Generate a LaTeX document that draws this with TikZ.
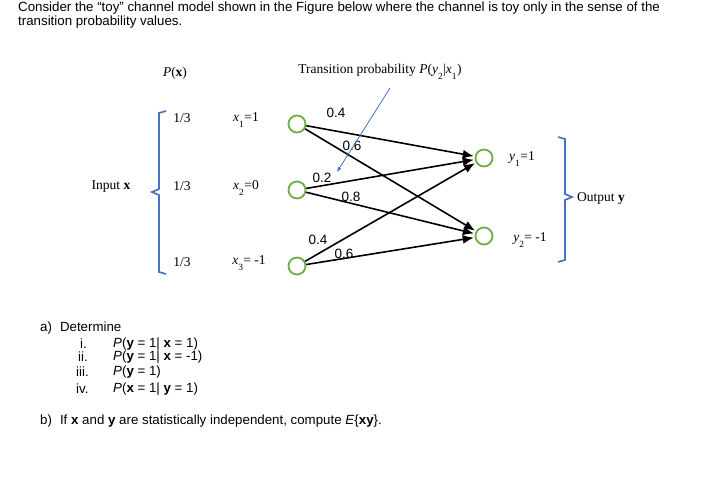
\documentclass[tikz,border=0pt]{standalone}
\usepackage{fontspec}
\setmainfont{Liberation Serif}
\newfontfamily\arial{Liberation Sans}
\usetikzlibrary{arrows.meta}
\definecolor{cgreen}{RGB}{112,173,71}
\definecolor{cblue}{RGB}{68,114,196}
\newcommand{\vi}[2]{\textit{#1}\textsubscript{\raisebox{-0.9ex}{#2}}}
\begin{document}
\begin{tikzpicture}[x=1pt,y=-1pt,
  st/.style={circle,draw=cgreen,line width=1.8pt,minimum size=17pt,inner sep=0pt},
  ar/.style={-{Latex[length=11pt,width=9pt]},line width=1.6pt,shorten >=1pt},
  fl/.style={font=\fontsize{13.5}{15}\selectfont,inner sep=0pt},
  tx/.style={font=\arial\fontsize{13.3}{15}\selectfont,inner sep=0pt,anchor=west},
  br/.style={draw=cblue,line width=1.7pt}]
\useasboundingbox (0,0) rectangle (710,501);
\node[tx] (h1) at (18,8) {Consider the “toy” channel model shown in the Figure below where the channel is toy only in the sense of the};
\node[tx] (h2) at (18,22) {transition probability values.};
\node (x1) [st] at (297,124) {};
\node (x2) [st] at (297,190) {};
\node (x3) [st] at (297,266) {};
\node (y1) [st] at (484,158) {};
\node (y2) [st] at (484,236) {};
\draw[ar] (x1) -- (y1); \draw[ar] (x1) -- (y2);
\draw[ar] (x2) -- (y1); \draw[ar] (x2) -- (y2);
\draw[ar] (x3) -- (y1); \draw[ar] (x3) -- (y2);
\node[fl] (p1) at (336,113) {\arial 0.4};
\node[fl] (p2) at (352,146) {\arial 0.6};
\node[fl] (p3) at (322,178) {\arial 0.2};
\node[fl] (p4) at (351,197) {\arial 0.8};
\node[fl] (p5) at (318,240) {\arial 0.4};
\node[fl] (p6) at (344,254) {\arial 0.6};
\node[fl] (tp) at (380,72) {Transition probability \textit{P}(\vi{y}{2}|\vi{x}{1})};
\coordinate (ta) at (390,88);
\coordinate (tb) at (337,172);
\draw[cblue,line width=0.8pt,-{Latex[length=5pt,width=4pt]}] (ta) -- (tb);
\node[fl] (px) at (175,73) {\textit{P}(\textbf{x})};
\node[fl] (q1) at (182,118) {1/3};
\node[fl] (q2) at (182,186) {1/3};
\node[fl] (q3) at (182,262) {1/3};
\node[fl] (l1) at (246,120) {\vi{x}{1}=1};
\node[fl] (l2) at (246,188) {\vi{x}{2}=0};
\node[fl] (l3) at (249,263) {\vi{x}{3}= -1};
\node[fl] (in) at (111,187) {Input \textbf{x}};
\node[fl] (m1) at (522,159) {\vi{y}{1}=1};
\node[fl] (m2) at (530,240) {\vi{y}{2}= -1};
\node[fl] (out) at (601,198) {Output \textbf{y}};
\draw[br] (166,111) -- (159,113) -- (159,189) -- (152,192) -- (159,195) -- (159,272) -- (166,274);
\draw[br] (558,137) -- (565,139) -- (565,194) -- (572,197) -- (565,200) -- (565,260) -- (558,262);
\node[tx] (a) at (40,328) {a)\hspace{8pt}Determine};
\node[tx] (a1) at (80,344) {i.};
\node[tx] (a2) at (78,357) {ii.};
\node[tx] (a3) at (76,372) {iii.};
\node[tx] (a4) at (76,389) {iv.};
\node[tx] (b1) at (113,344) {\textit{P}(\textbf{y} = 1| \textbf{x} = 1)};
\node[tx] (b2) at (113,357) {\textit{P}(\textbf{y} = 1| \textbf{x} = -1)};
\node[tx] (b3) at (113,372) {\textit{P}(\textbf{y} = 1)};
\node[tx] (b4) at (113,389) {\textit{P}(\textbf{x} = 1| \textbf{y} = 1)};
\node[tx] (b) at (40,421) {b)\hspace{8pt}If \textbf{x} and \textbf{y} are statistically independent, compute \textit{E}\{\textbf{xy}\}.};
\end{tikzpicture}
\end{document}
